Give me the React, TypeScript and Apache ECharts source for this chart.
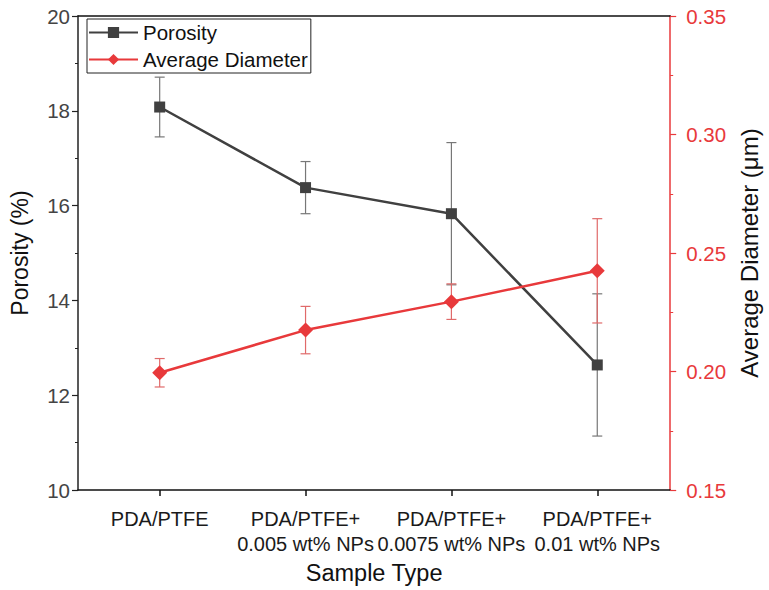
import React, { useEffect, useRef } from "react";
import * as echarts from "echarts";

const categories = [
  "PDA/PTFE",
  "PDA/PTFE+\n0.005 wt% NPs",
  "PDA/PTFE+\n0.0075 wt% NPs",
  "PDA/PTFE+\n0.01 wt% NPs",
];
const porosity = [18.08, 16.38, 15.83, 12.64];
const porosityErr = [0.63, 0.55, 1.5, 1.5];
const diameter = [0.1995, 0.2175, 0.2295, 0.2425];
const diameterErr = [0.006, 0.01, 0.0075, 0.022];
const leftTicks = { min: 10, max: 20, interval: 2 };
const rightTicks = { min: 0.15, max: 0.35, interval: 0.05 };

const RED = "#e8393b";
const DARK = "#404040";

export default function App() {
  const ref = useRef<HTMLDivElement>(null);
  useEffect(() => {
    document.body.style.margin = "0";
    document.body.style.overflow = "hidden";
    document.documentElement.style.overflow = "hidden";
    const chart = echarts.init(ref.current!, null, { renderer: "svg" });
    const idx = categories.map((_, i) => i);
    const errRender = (color: string) => (params: any, api: any) => {
      const x = api.value(0);
      const lo = api.coord([x, api.value(1)]);
      const hi = api.coord([x, api.value(2)]);
      const w = 5;
      const style = { stroke: color, lineWidth: 1.2 };
      return {
        type: "group",
        children: [
          { type: "line", shape: { x1: hi[0], y1: hi[1], x2: lo[0], y2: lo[1] }, style },
          { type: "line", shape: { x1: hi[0] - w, y1: hi[1], x2: hi[0] + w, y2: hi[1] }, style },
          { type: "line", shape: { x1: lo[0] - w, y1: lo[1], x2: lo[0] + w, y2: lo[1] }, style },
        ],
      };
    };
    const font = "'Liberation Sans', Arial, sans-serif";
    chart.setOption({
      animation: false,
      textStyle: { fontFamily: font },
      grid: { left: 77, right: 92, top: 16, bottom: 97, containLabel: false },
      legend: {
        left: 87,
        top: 19,
        orient: "vertical",
        backgroundColor: "#fff",
        borderColor: "#222",
        borderWidth: 1,
        borderRadius: 0,
        padding: [3, 3, 3, 1],
        itemGap: 6,
        itemWidth: 49,
        itemHeight: 14,
        textStyle: { fontSize: 20.5, color: "#111", fontFamily: font },
        data: ["Porosity", "Average Diameter"],
      },
      xAxis: [
        {
          type: "value",
          min: -0.56,
          max: 3.5,
          name: "Sample Type",
          nameLocation: "middle",
          nameGap: 67,
          nameTextStyle: { fontSize: 23.5, color: "#111" },
          splitLine: { show: false },
          axisLine: { show: true, onZero: false, lineStyle: { color: "#111", width: 1.5 } },
          axisTick: { show: true, customValues: idx, length: 6, lineStyle: { color: "#111", width: 1.5 } },
          axisLabel: {
            customValues: idx,
            fontSize: 20,
            color: "#1a1a1a",
            lineHeight: 25,
            margin: 16,
            formatter: (v: number) => categories[Math.round(v)] ?? "",
          },
        },
        {
          type: "value",
          position: "top",
          min: -0.56,
          max: 3.5,
          splitLine: { show: false },
          axisLine: { show: true, onZero: false, lineStyle: { color: "#111", width: 1.5 } },
          axisTick: { show: false },
          axisLabel: { show: false },
        },
      ],
      yAxis: [
        {
          type: "value",
          min: leftTicks.min,
          max: leftTicks.max,
          interval: leftTicks.interval,
          name: "Porosity (%)",
          nameLocation: "middle",
          nameGap: 47,
          nameTextStyle: { fontSize: 23, color: "#111" },
          splitLine: { show: false },
          axisLine: { show: true, onZero: false, lineStyle: { color: "#222", width: 1.5 } },
          axisTick: { show: true, length: 6, lineStyle: { color: "#222", width: 1.2 } },
          minorTick: { show: true, splitNumber: 2, length: 3, lineStyle: { color: "#222", width: 1 } },
          axisLabel: { fontSize: 20.5, color: "#444", margin: 8 },
        },
        {
          type: "value",
          position: "right",
          min: rightTicks.min,
          max: rightTicks.max,
          interval: rightTicks.interval,
          name: "Average Diameter (\u03bcm)",
          nameLocation: "middle",
          nameGap: 66,
          nameRotate: 90,
          nameTextStyle: { fontSize: 24, color: "#111" },
          splitLine: { show: false },
          axisLine: { show: true, onZero: false, lineStyle: { color: RED, width: 1.5 } },
          axisTick: { show: true, length: 6, lineStyle: { color: RED, width: 1.2 } },
          minorTick: { show: true, splitNumber: 2, length: 3, lineStyle: { color: RED, width: 1 } },
          axisLabel: {
            fontSize: 20.5,
            color: RED,
            margin: 16,
            formatter: (v: number) => v.toFixed(2),
          },
        },
      ],
      series: [
        {
          type: "custom",
          name: "porosityErr",
          xAxisIndex: 0,
          yAxisIndex: 0,
          z: 1,
          renderItem: errRender("#777"),
          data: idx.map((i) => [i, porosity[i] - porosityErr[i], porosity[i] + porosityErr[i]]),
          encode: { x: 0, y: [1, 2] },
        },
        {
          type: "custom",
          name: "diameterErr",
          xAxisIndex: 0,
          yAxisIndex: 1,
          z: 1,
          renderItem: errRender("#e06a6a"),
          data: idx.map((i) => [i, diameter[i] - diameterErr[i], diameter[i] + diameterErr[i]]),
          encode: { x: 0, y: [1, 2] },
        },
        {
          type: "line",
          name: "Porosity",
          xAxisIndex: 0,
          yAxisIndex: 0,
          z: 3,
          symbol: "rect",
          symbolSize: 11,
          color: DARK,
          lineStyle: { color: DARK, width: 2.5 },
          itemStyle: { color: DARK },
          data: idx.map((i) => [i, porosity[i]]),
        },
        {
          type: "line",
          name: "Average Diameter",
          xAxisIndex: 0,
          yAxisIndex: 1,
          z: 3,
          symbol: "diamond",
          symbolSize: 15,
          color: RED,
          lineStyle: { color: RED, width: 2.5 },
          itemStyle: { color: RED },
          data: idx.map((i) => [i, diameter[i]]),
        },
      ],
    });
    return () => chart.dispose();
  }, []);
  return <div ref={ref} style={{ width: 769, height: 590 }} />;
}
